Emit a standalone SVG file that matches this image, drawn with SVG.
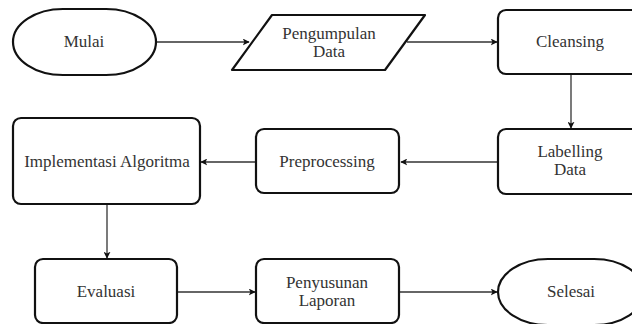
<svg xmlns="http://www.w3.org/2000/svg" width="632" height="324" viewBox="0 0 632 324">
<style>
.n{fill:#fff;stroke:#111;stroke-width:2.2}
.t{font-family:'Liberation Serif','Times New Roman',serif;font-size:17px;fill:#333;text-anchor:middle}
.c{stroke:#333;stroke-width:1.3;fill:none}
</style>
<defs>
<marker id="ah" viewBox="0 0 10 10" refX="9" refY="5" markerWidth="7" markerHeight="7" orient="auto" markerUnits="userSpaceOnUse">
<path d="M0,0 L10,5 L0,10 L2.5,5 Z" fill="#111"/>
</marker>
</defs>
<rect width="632" height="324" fill="#fff"/>
<g id="connectors">
<path class="c" d="M156,42 H249" marker-end="url(#ah)"/>
<path class="c" d="M407,42 H497" marker-end="url(#ah)"/>
<path class="c" d="M571,74 V128" marker-end="url(#ah)"/>
<path class="c" d="M498,162 H401" marker-end="url(#ah)"/>
<path class="c" d="M256,162 H201" marker-end="url(#ah)"/>
<path class="c" d="M107,204 V258" marker-end="url(#ah)"/>
<path class="c" d="M177,292 H255" marker-end="url(#ah)"/>
<path class="c" d="M399,292 H497" marker-end="url(#ah)"/>
</g>
<g id="mulai">
<rect class="n" x="13" y="9" width="143" height="66" rx="50" ry="33"/>
<text class="t" x="84" y="47">Mulai</text>
</g>
<g id="pengumpulan">
<path class="n" d="M272,15 H425 L385,70 H232 Z" stroke-linejoin="round"/>
<text class="t" x="329" y="39">Pengumpulan</text>
<text class="t" x="329" y="57">Data</text>
</g>
<g id="cleansing">
<rect class="n" x="498" y="10" width="144" height="64" rx="8"/>
<text class="t" x="570" y="47">Cleansing</text>
</g>
<g id="labelling">
<rect class="n" x="498" y="129" width="144" height="65" rx="8"/>
<text class="t" x="570" y="157">Labelling</text>
<text class="t" x="570" y="175">Data</text>
</g>
<g id="preprocessing">
<rect class="n" x="256" y="129" width="143" height="64" rx="8"/>
<text class="t" x="327" y="167">Preprocessing</text>
</g>
<g id="implementasi">
<rect class="n" x="13" y="118" width="187" height="86" rx="8"/>
<text class="t" x="107" y="167">Implementasi Algoritma</text>
</g>
<g id="evaluasi">
<rect class="n" x="35" y="259" width="142" height="64" rx="8"/>
<text class="t" x="106" y="297">Evaluasi</text>
</g>
<g id="penyusunan">
<rect class="n" x="256" y="259" width="143" height="64" rx="8"/>
<text class="t" x="327" y="288">Penyusunan</text>
<text class="t" x="327" y="306">Laporan</text>
</g>
<g id="selesai">
<rect class="n" x="498" y="259" width="146" height="66" rx="50" ry="33"/>
<text class="t" x="571" y="297">Selesai</text>
</g>
</svg>
